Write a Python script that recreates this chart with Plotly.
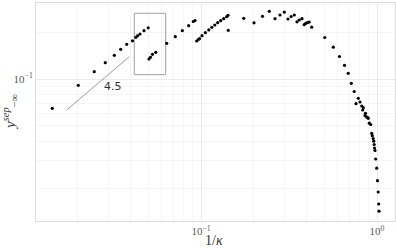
import plotly.graph_objects as go

# data (1/kappa, y_sep)
inv_kappa = [
    0.01429, 0.02008, 0.02476, 0.02858, 0.03217, 0.03498, 0.03783, 0.04081, 0.04261, 0.04368,
    0.04502, 0.04744, 0.05012,
    0.05064, 0.05165, 0.05301, 0.05536,
    0.06385, 0.07145, 0.07832, 0.08513, 0.0904, 0.09245,
    0.09453, 0.09653, 0.09806, 0.1013, 0.1058, 0.1107, 0.1152, 0.1198, 0.1244, 0.1294,
    0.1346, 0.1400, 0.1424,
    0.1429, 0.1749, 0.2001, 0.2236, 0.2444, 0.2633, 0.2811, 0.2974, 0.3121, 0.3254,
    0.3389, 0.3511, 0.3618, 0.3749, 0.3858, 0.3940, 0.4028, 0.4120, 0.4256,
    0.5051, 0.5646, 0.6122, 0.6537, 0.6862, 0.7145, 0.7421, 0.7831, 0.7598, 0.8006,
    0.8187, 0.8360, 0.8294, 0.8603, 0.8546, 0.8739, 0.8831, 0.8924, 0.9042, 0.9209,
    0.9331, 0.9404, 0.9515, 0.9579, 0.9641, 0.9678, 0.9741, 0.9831, 0.9961, 1.0065,
    1.016, 1.0226, 1.0266,
]
y_sep = [
    0.06491, 0.09112, 0.1114, 0.1272, 0.1419, 0.1550, 0.1669, 0.1758, 0.1851, 0.1895,
    0.1943, 0.2040, 0.2129,
    0.1343, 0.1379, 0.1440, 0.1483,
    0.1694, 0.1867, 0.2040, 0.2196, 0.2337, 0.2371,
    0.1752, 0.1792, 0.1813, 0.1895, 0.1981, 0.2062, 0.2145, 0.2219, 0.2296, 0.2364,
    0.2435, 0.2508, 0.2560,
    0.2052, 0.2449, 0.2293, 0.2523, 0.2716, 0.2435, 0.2572, 0.2680, 0.2425, 0.2516,
    0.2572, 0.2326, 0.2389, 0.2435, 0.2229, 0.2276, 0.2296, 0.2319, 0.2148,
    0.1845, 0.1599, 0.1394, 0.1224, 0.1088, 0.09385, 0.08315, 0.07521, 0.06945, 0.07121,
    0.06713, 0.06547, 0.06328, 0.06026, 0.05834, 0.05707, 0.05682, 0.05598, 0.05207, 0.05108,
    0.04486, 0.04330, 0.04155, 0.03993, 0.03803, 0.03611, 0.03481, 0.03070, 0.02681, 0.02229,
    0.01886, 0.01580, 0.01421,
]

# reference slope line and its label
slope_x = [0.01726, 0.03914]
slope_y = [0.06328, 0.1390]
slope_label = "4.5"
slope_label_pos = (0.03150, 0.08925)

# highlight box corners (data coords)
box_x = [0.04178, 0.06301]
box_y = [0.1066, 0.2638]

x_ticks = [0.1, 1.0]
x_ticktext = ["10<sup>−1</sup>", "10<sup>0</sup>"]
y_ticks = [0.1]
y_ticktext = ["10<sup>−1</sup>"]

import math
minor_x = [d * 10 ** e for e in (-2, -1, 0) for d in range(2, 10)]
minor_y = [d * 10 ** e for e in (-2, -1) for d in range(2, 10)]

fig = go.Figure()
fig.add_trace(go.Scatter(
    x=slope_x, y=slope_y, mode="lines",
    line=dict(color="#9a9a9a", width=1), hoverinfo="skip", showlegend=False,
))
fig.add_trace(go.Scatter(
    x=[box_x[0], box_x[1], box_x[1], box_x[0], box_x[0]],
    y=[box_y[0], box_y[0], box_y[1], box_y[1], box_y[0]],
    mode="lines", line=dict(color="#a0a0a0", width=1),
    hoverinfo="skip", showlegend=False,
))
fig.add_trace(go.Scatter(
    x=inv_kappa, y=y_sep, mode="markers",
    marker=dict(color="black", size=3.2), showlegend=False,
))

fig.add_annotation(
    x=math.log10(slope_label_pos[0]), y=math.log10(slope_label_pos[1]),
    text=slope_label, showarrow=False, xref="x", yref="y",
    font=dict(family="DejaVu Sans", size=11, color="#333333"),
)

serif = "Liberation Serif"
grid_major = "#ebebeb"
grid_minor = "#f5f5f5"

# axis titles as paper annotations
fig.add_annotation(
    x=0.497, y=0, xref="paper", yref="paper", yshift=-19, yanchor="middle",
    text="1/<i>κ</i>", showarrow=False,
    font=dict(family=serif, size=14, color="#333333"),
)
fig.add_annotation(
    x=0, y=0.5, xref="paper", yref="paper", xshift=-26, xanchor="center",
    text="<i>y</i><sup><i>sep</i></sup><sub>−∞</sub>", showarrow=False, textangle=-90,
    font=dict(family=serif, size=15, color="#333333"),
)

fig.update_layout(
    width=396, height=248,
    margin=dict(l=36, r=1, t=3, b=27, autoexpand=False),
    plot_bgcolor="white", paper_bgcolor="white",
    font=dict(family=serif, color="#444444"),
)
fig.update_xaxes(
    type="log", range=[-1.9375, 0.1023], automargin=False,
    tickvals=x_ticks, ticktext=x_ticktext,
    tickfont=dict(family=serif, size=11, color="#555555"),
    ticks="", showgrid=True, gridcolor=grid_major, gridwidth=1,
    minor=dict(tickvals=minor_x, showgrid=True, gridcolor=grid_minor, gridwidth=1, ticks=""),
    showline=True, linecolor="#dddddd", linewidth=1, mirror=True,
    zeroline=False,
)
fig.update_yaxes(
    type="log", range=[-1.9103, -0.5128], automargin=False,
    tickvals=y_ticks, ticktext=y_ticktext,
    tickfont=dict(family=serif, size=11, color="#555555"),
    ticks="", showgrid=True, gridcolor=grid_major, gridwidth=1,
    minor=dict(tickvals=minor_y, showgrid=True, gridcolor=grid_minor, gridwidth=1, ticks=""),
    showline=True, linecolor="#dddddd", linewidth=1, mirror=True,
    zeroline=False,
)

fig.write_html("out.html", config={"displayModeBar": False},
               post_script="document.body.style.margin='0';")
